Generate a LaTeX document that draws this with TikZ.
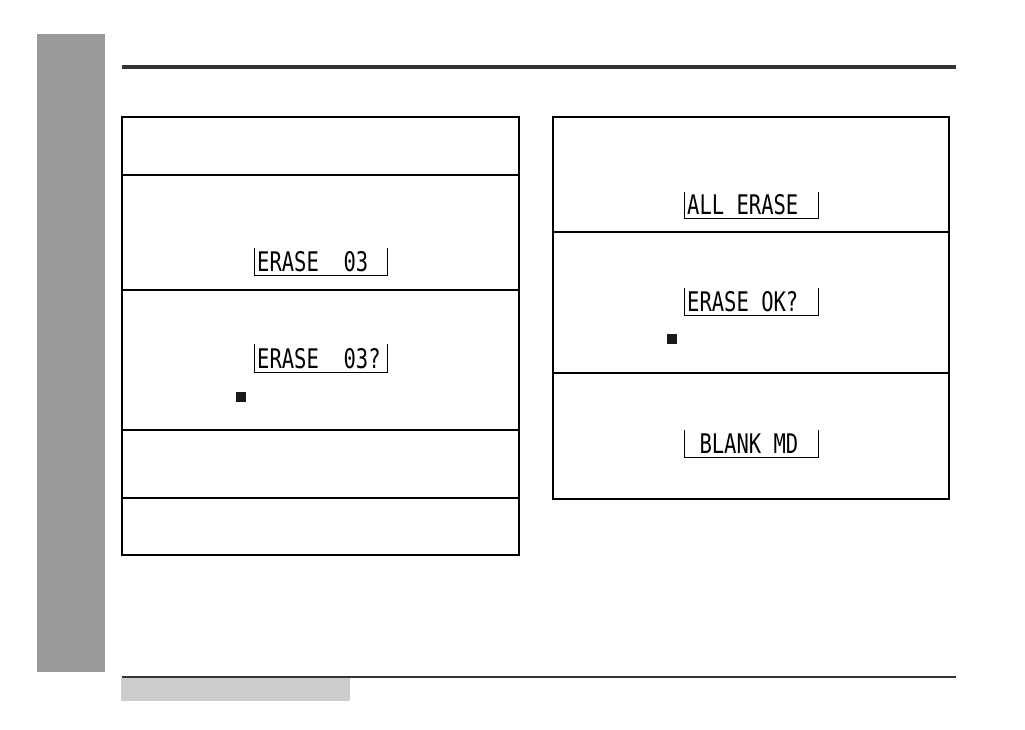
\documentclass[tikz,border=0pt]{standalone}
\usepackage{fontspec}
\newfontfamily\lcdfont{DejaVu Sans Mono}
\definecolor{bargray}{HTML}{999999}
\definecolor{tabgray}{HTML}{CCCCCC}
\definecolor{rulegray}{HTML}{333333}
\begin{document}
\begin{tikzpicture}[x=1pt,y=-1pt,
  frame/.style={draw=black,line width=1.2pt},
  lcdbox/.style={draw=black,line width=1pt},
  lcd/.style={anchor=base west,inner sep=0pt,font=\lcdfont\fontsize{27}{27}\selectfont,xscale=0.76}]
  \useasboundingbox (0,0) rectangle (1025,729);
  % page furniture
  \fill[bargray] (37,34) rectangle (105,672);
  \fill[rulegray] (122,65) rectangle (956,69);
  \fill[rulegray] (122,676) rectangle (956,678);
  \fill[tabgray] (121,678) rectangle (350,701);

  % left steps
  \draw[frame] (122,117) rectangle (519,555);
  \foreach \y in {175,290,430,498}
    \draw[frame] (122,\y) -- (519,\y);
  % right steps
  \draw[frame] (553,117) rectangle (949,499);
  \foreach \y in {232,373}
    \draw[frame] (553,\y) -- (949,\y);

  % displays
  \node[lcd] (erasenum) at (257,271) {ERASE~~03};
  \draw[lcdbox] (254,248) -- (254,275) -- (387,275) -- (387,248);
  \node[lcd] (erasenumq) at (257,368) {ERASE~~03?};
  \draw[lcdbox] (254,344) -- (254,372) -- (387,372) -- (387,344);
  \node[lcd] (allerase) at (687,214) {ALL ERASE};
  \draw[lcdbox] (684,192) -- (684,218) -- (818,218) -- (818,192);
  \node[lcd] (eraseok) at (687,311) {ERASE OK?};
  \draw[lcdbox] (684,288) -- (684,315) -- (818,315) -- (818,288);
  \node[lcd] (blank) at (687,453) {~BLANK MD};
  \draw[lcdbox] (684,430) -- (684,457) -- (818,457) -- (818,430);

  % stop keys
  \fill[black!90] (236,392) rectangle (246,402);
  \fill[black!90] (667,334) rectangle (677,344);
\end{tikzpicture}
\end{document}
